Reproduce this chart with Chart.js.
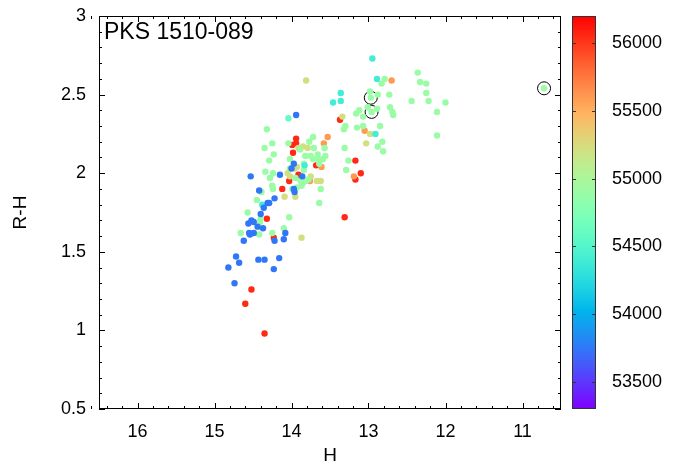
<!DOCTYPE html>
<html>
<head>
<meta charset="utf-8">
<script src="https://cdn.jsdelivr.net/npm/chart.js@4.4.1/dist/chart.umd.min.js"></script>
<style>
  html, body { margin: 0; padding: 0; background: #fff; }
</style>
</head>
<body>
<canvas id="cmd-chart" width="686" height="465"></canvas>
<script>
var sourceName = 'PKS 1510-089';

// axis tick values
var hTicks = [16, 15, 14, 13, 12, 11];
var rhTicks = [0.5, 1, 1.5, 2, 2.5, 3];
var mjdTicks = [53500, 54000, 54500, 55000, 55500, 56000];

// colour-bar range (MJD)
var cbMin = 53300;
var cbMax = 56200;

// epoch of each group of observations (MJD)
var mjdBlue = 53750;
var mjdCyan = 54400;
var mjdMint = 54600;
var mjdGreen = 54900;
var mjdYellow = 55220;
var mjdOrange = 55600;
var mjdRed = 56050;

// [H, R-H] pairs per epoch group
var ptsBlue = [
  [14.53,1.98],[14.15,1.99],[14.42,1.89],[14.22,1.84],[14.31,1.81],[14.29,1.81],
  [14.36,1.78],[14.40,1.74],[14.52,1.70],[14.49,1.69],[14.56,1.68],[14.44,1.66],
  [14.37,1.65],[14.55,1.62],[14.54,1.61],[14.49,1.62],[14.62,1.57],[14.22,1.57],
  [14.10,1.58],[14.08,1.62],[14.72,1.47],[14.68,1.43],[14.82,1.40],[14.43,1.45],
  [14.35,1.45],[14.16,1.46],[14.23,1.39],[14.74,1.30],[13.94,2.37],[13.97,2.06],
  [14.00,2.03],[13.86,1.98],[13.97,1.90],[13.96,1.88]
];
var ptsCyan = [
  [12.95,2.73],[12.89,2.60],[13.36,2.51],[13.46,2.45],[13.36,2.46],[12.91,2.25],
  [14.38,1.80],[13.83,2.05]
];
var ptsMint = [[14.04,2.35]];
var ptsGreen = [
  [12.36,2.64],[12.33,2.58],[12.25,2.57],[12.25,2.51],[12.44,2.46],[12.22,2.46],
  [12.00,2.45],[12.11,2.39],[12.11,2.24],[12.83,2.57],[12.79,2.60],[12.88,2.50],
  [12.73,2.50],[12.98,2.52],[12.72,2.42],[12.69,2.39],[12.68,2.37],[12.89,2.41],
  [13.12,2.40],[13.16,2.38],[13.07,2.36],[13.01,2.42],[13.30,2.30],[13.32,2.28],
  [13.15,2.29],[13.07,2.30],[12.85,2.30],[12.82,2.20],[12.88,2.17],[12.81,2.14],
  [13.31,2.16],[13.26,2.08],[13.29,2.02],[14.32,2.28],[14.04,2.19],[14.25,2.19],
  [14.35,2.16],[13.77,2.20],[13.72,2.23],[13.71,2.16],[13.57,2.16],[13.89,2.15],
  [14.23,2.12],[14.29,2.08],[13.82,2.11],[13.75,2.11],[13.66,2.12],[13.56,2.11],
  [13.59,2.09],[13.72,2.09],[13.65,2.09],[14.02,2.09],[13.84,2.06],[13.64,2.06],
  [13.84,2.02],[14.02,2.03],[14.34,2.01],[14.28,1.97],[14.24,2.00],[13.88,1.95],
  [13.82,1.95],[13.78,1.96],[13.85,1.94],[13.62,1.90],[14.25,1.92],[14.24,1.90],
  [14.39,1.88],[14.45,1.83],[13.64,1.81],[14.57,1.75],[14.03,1.72],[14.40,1.71],
  [14.41,1.69],[14.10,1.65],[14.66,1.62],[14.42,1.61],[14.25,1.62],[13.95,1.97],
  [13.87,1.92],[13.93,1.91],[13.99,1.90]
];
var ptsMarked = [[12.97,2.48],[12.96,2.39],[10.72,2.54]];
var ptsYellow = [
  [13.81,2.59],[13.34,2.36],[12.98,2.25],[13.03,2.19],[13.85,2.17],[13.79,2.16],
  [13.91,2.16],[14.05,2.00],[14.02,1.98],[13.75,1.98],[13.67,1.95],[13.62,1.95],
  [14.09,1.85],[13.95,1.85],[13.87,1.59],[13.93,2.04],[13.96,2.03]
];
var ptsOrange = [
  [13.53,2.23],[13.58,2.19],[13.61,2.04],[13.76,1.95],[13.19,1.98],[13.05,2.27],
  [12.70,2.59]
];
var ptsRed = [
  [14.12,1.90],[14.32,1.71],[14.23,1.59],[14.52,1.26],[14.60,1.17],[14.35,0.98],
  [13.31,1.72],[13.91,1.99],[14.03,1.95],[13.94,2.22],[13.99,2.18],[13.94,2.19],
  [13.98,2.13],[13.68,2.05],[13.37,2.34],[13.17,2.08],[13.10,2.00],[13.17,1.96]
];

var fontFamily = '"Liberation Sans", Arial, sans-serif';
Chart.defaults.font.family = fontFamily;
Chart.defaults.color = '#000';

// matplotlib-style rainbow colour map
function rainbow(t) {
  t = Math.min(1, Math.max(0, t));
  var r = Math.min(1, Math.abs(2 * t - 0.5));
  var g = Math.sin(Math.PI * t);
  var b = Math.cos(Math.PI * t / 2);
  return 'rgb(' + Math.round(r * 255) + ',' + Math.round(g * 255) + ',' + Math.round(b * 255) + ')';
}

function mjdColor(mjd) {
  return rainbow((mjd - cbMin) / (cbMax - cbMin));
}

function toXY(pts) {
  return pts.map(function(p) { return { x: p[0], y: p[1] }; });
}

function fixedTicks(values) {
  return function(scale) {
    scale.ticks = values.map(function(v) { return { value: v }; });
  };
}

function group(pts, mjd) {
  return {
    data: toXY(pts),
    backgroundColor: mjdColor(mjd),
    borderWidth: 0,
    pointRadius: 3.2,
    pointHoverRadius: 3.2
  };
}

// boxed frame with inward ticks on all four sides
var framePlugin = {
  id: 'frame',
  afterDatasetsDraw: function(chart) {
    var ctx = chart.ctx;
    var a = chart.chartArea;
    var xs = chart.scales.x;
    var ys = chart.scales.y;
    ctx.save();
    ctx.strokeStyle = '#000';
    ctx.lineWidth = 1;
    ctx.beginPath();
    var i, v, p, len;
    for (i = 0; i <= 30; i++) {
      v = 10.6 + i * 0.2;
      p = Math.round(xs.getPixelForValue(v)) + 0.5;
      len = Math.abs(v - Math.round(v)) < 1e-6 ? 6 : 3;
      ctx.moveTo(p, a.bottom); ctx.lineTo(p, a.bottom - len);
      ctx.moveTo(p, a.top); ctx.lineTo(p, a.top + len);
    }
    for (i = 0; i <= 25; i++) {
      v = 0.5 + i * 0.1;
      p = Math.round(ys.getPixelForValue(v)) + 0.5;
      len = (i % 5 === 0) ? 6 : 3;
      ctx.moveTo(a.left, p); ctx.lineTo(a.left + len, p);
      ctx.moveTo(a.right, p); ctx.lineTo(a.right - len, p);
    }
    ctx.stroke();
    ctx.strokeRect(a.left + 0.5, a.top + 0.5, a.right - a.left - 1, a.bottom - a.top - 1);

    ctx.fillStyle = '#000';
    ctx.font = '23px ' + fontFamily;
    ctx.textAlign = 'left';
    ctx.textBaseline = 'alphabetic';
    ctx.fillText(sourceName, a.left + 5, a.top + 23);
    ctx.restore();
  }
};

// colour bar drawn along the cb scale
var colorbarPlugin = {
  id: 'colorbar',
  afterDraw: function(chart) {
    var ctx = chart.ctx;
    var cb = chart.scales.cb;
    var x0 = chart.chartArea.right + 11;
    var w = 24;
    ctx.save();
    for (var py = cb.top; py < cb.bottom; py++) {
      ctx.fillStyle = mjdColor(cb.getValueForPixel(py + 0.5));
      ctx.fillRect(x0, py, w, 1);
    }
    ctx.strokeStyle = '#333';
    ctx.lineWidth = 1;
    ctx.strokeRect(x0 + 0.5, cb.top + 0.5, w - 1, cb.bottom - cb.top - 1);
    ctx.beginPath();
    cb.ticks.forEach(function(t) {
      var p = Math.round(cb.getPixelForValue(t.value)) + 0.5;
      ctx.moveTo(x0, p); ctx.lineTo(x0 + 4, p);
      ctx.moveTo(x0 + w - 4, p); ctx.lineTo(x0 + w, p);
    });
    ctx.stroke();
    ctx.restore();
  }
};

var tickFont = { family: fontFamily, size: 18 };
var titleFont = { family: fontFamily, size: 19 };

new Chart(document.getElementById('cmd-chart').getContext('2d'), {
  type: 'scatter',
  data: {
    datasets: [
      group(ptsBlue, mjdBlue),
      group(ptsCyan, mjdCyan),
      group(ptsMint, mjdMint),
      group(ptsGreen.concat(ptsMarked), mjdGreen),
      group(ptsYellow, mjdYellow),
      group(ptsOrange, mjdOrange),
      group(ptsRed, mjdRed),
      {
        data: toXY(ptsMarked),
        backgroundColor: 'rgba(0,0,0,0)',
        borderColor: '#000',
        borderWidth: 1,
        pointRadius: 6.5,
        pointHoverRadius: 6.5
      },
      {
        data: toXY(ptsMarked),
        backgroundColor: '#2f6a2f',
        borderWidth: 0,
        pointRadius: 1,
        pointHoverRadius: 1
      }
    ]
  },
  options: {
    responsive: false,
    animation: false,
    devicePixelRatio: 1,
    layout: { autoPadding: false, padding: { top: 16, left: 0, right: 0, bottom: 0 } },
    plugins: { legend: { display: false }, tooltip: { enabled: false } },
    scales: {
      x: {
        type: 'linear',
        position: 'bottom',
        reverse: true,
        min: 10.5,
        max: 16.5,
        afterBuildTicks: fixedTicks(hTicks),
        afterFit: function(s) { s.height = 56; },
        grid: { display: false, drawTicks: false },
        border: { display: false },
        ticks: {
          padding: 12,
          font: tickFont,
          color: '#000',
          maxRotation: 0,
          callback: function(v) { return String(v); }
        },
        title: { display: true, text: 'H', font: titleFont, color: '#000', padding: { top: 0, bottom: -2 } }
      },
      y: {
        type: 'linear',
        position: 'left',
        min: 0.5,
        max: 3,
        afterBuildTicks: fixedTicks(rhTicks),
        afterFit: function(s) { s.width = 99; s.paddingTop = 0; s.paddingBottom = 0; },
        grid: { display: false, drawTicks: false },
        border: { display: false },
        ticks: {
          padding: 13,
          font: tickFont,
          color: '#000',
          callback: function(v) { return String(v); }
        },
        title: { display: true, text: 'R-H', font: titleFont, color: '#000', padding: { top: 9, bottom: 0 } }
      },
      cb: {
        type: 'linear',
        axis: 'y',
        position: 'right',
        min: cbMin,
        max: cbMax,
        afterBuildTicks: fixedTicks(mjdTicks),
        afterFit: function(s) { s.width = 125; s.paddingTop = 0; s.paddingBottom = 0; },
        grid: { display: false, drawTicks: false },
        border: { display: false },
        ticks: {
          padding: 51,
          font: tickFont,
          color: '#000',
          callback: function(v) { return String(v); }
        }
      }
    }
  },
  plugins: [framePlugin, colorbarPlugin]
});
</script>
</body>
</html>
